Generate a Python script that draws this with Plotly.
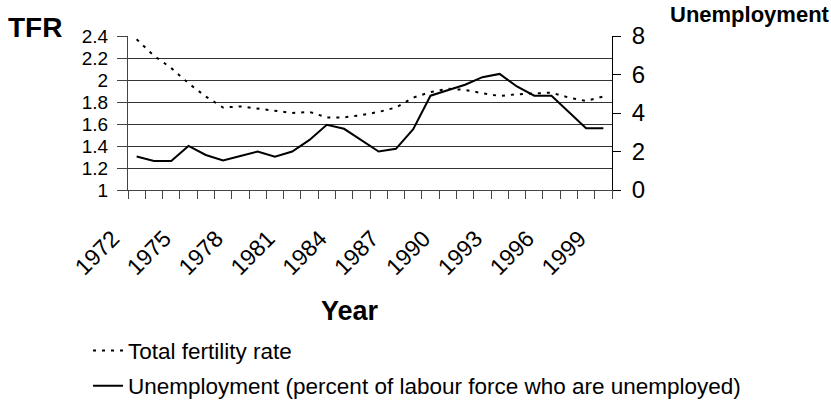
import plotly.graph_objects as go

years = list(range(1972, 2000))
tfr = [2.37, 2.22, 2.11, 1.97, 1.85, 1.75, 1.76, 1.74, 1.72, 1.70, 1.71, 1.66, 1.66, 1.68,
       1.71, 1.75, 1.84, 1.89, 1.92, 1.91, 1.88, 1.855, 1.87, 1.88, 1.885, 1.84, 1.81, 1.85]
unemployment = [1.74, 1.51, 1.51, 2.29, 1.82, 1.53, 1.77, 2.0, 1.73, 2.0, 2.6, 3.39, 3.18, 2.57,
                2.0, 2.14, 3.16, 4.9, 5.17, 5.47, 5.86, 6.03, 5.38, 4.9, 4.9, 4.08, 3.21, 3.21]
label_years = list(range(1972, 2000, 3))

FONT = "Liberation Sans, Arial, sans-serif"

fig = go.Figure()
fig.add_trace(go.Scatter(
    x=years, y=tfr, mode="lines", name="Total fertility rate", showlegend=True,
    line=dict(color="black", width=2, dash="3px,6px"), yaxis="y", legend="legend"))
fig.add_trace(go.Scatter(
    x=years, y=unemployment, mode="lines", showlegend=True,
    name="Unemployment (percent of labour force who are unemployed)",
    line=dict(color="black", width=2), yaxis="y2", legend="legend2"))

fig.update_layout(
    width=831, height=402,
    margin=dict(l=128, r=219, t=36, b=212, autoexpand=False),
    paper_bgcolor="white", plot_bgcolor="white",
    showlegend=True,
    font=dict(family=FONT, color="black"),
    xaxis=dict(
        type="linear", range=[years[0] - 0.5, years[-1] + 0.5], automargin=False,
        tickmode="array", tickvals=label_years, ticktext=[str(y) for y in label_years],
        ticks="", tickangle=-45, tickfont=dict(size=23, family=FONT),
        ticklabelstandoff=25, ticklabelshift=-24,
        showline=True, linecolor="#444", linewidth=1,
        showgrid=False, zeroline=False,
        minor=dict(tickmode="linear", tick0=years[0] - 0.5, dtick=1,
                   ticks="outside", ticklen=8, tickcolor="#444", tickwidth=1, showgrid=False),
    ),
    yaxis=dict(
        range=[1, 2.4], dtick=0.2, tick0=1, ticks="outside", ticklen=10, automargin=False,
        tickcolor="#444", tickfont=dict(size=19, family=FONT), ticklabelstandoff=5,
        showline=True, linecolor="#444", linewidth=1,
        showgrid=True, gridcolor="#333", gridwidth=1, zeroline=False,
    ),
    yaxis2=dict(
        range=[0, 8], dtick=2, tick0=0, overlaying="y", side="right", anchor="x", automargin=False,
        ticks="outside", ticklen=8, tickcolor="black", tickfont=dict(size=24, family=FONT),
        ticklabelstandoff=6,
        showline=True, linecolor="black", linewidth=1, showgrid=False, zeroline=False,
    ),
    yaxis3=dict(
        range=[0, 8], dtick=2, tick0=0, overlaying="y", side="right", anchor="x", automargin=False,
        ticks="inside", ticklen=7, tickcolor="black", showticklabels=False,
        showline=False, showgrid=False, zeroline=False,
    ),
    legend=dict(x=-0.0826, y=-1.045, xanchor="left", yanchor="middle",
                font=dict(size=22.5, family=FONT), bgcolor="rgba(0,0,0,0)", borderwidth=0),
    legend2=dict(x=-0.0826, y=-1.273, xanchor="left", yanchor="middle",
                 font=dict(size=22.5, family=FONT), bgcolor="rgba(0,0,0,0)", borderwidth=0),
    annotations=[
        dict(text="<b>TFR</b>", xref="paper", yref="paper", x=-0.1921, y=1.0584,
             xanchor="center", yanchor="middle", showarrow=False, font=dict(size=28, family=FONT)),
        dict(text="<b>Unemployment</b>", xref="paper", yref="paper", x=1.1157, y=1.1364,
             xanchor="left", yanchor="middle", showarrow=False, font=dict(size=22, family=FONT)),
        dict(text="<b>Year</b>", xref="paper", yref="paper", x=0.4587, y=-0.7857,
             xanchor="center", yanchor="middle", showarrow=False, font=dict(size=27, family=FONT)),
    ],
)

fig.write_html("out.html", config={"displayModeBar": False},
               post_script="document.body.style.margin='0';")
